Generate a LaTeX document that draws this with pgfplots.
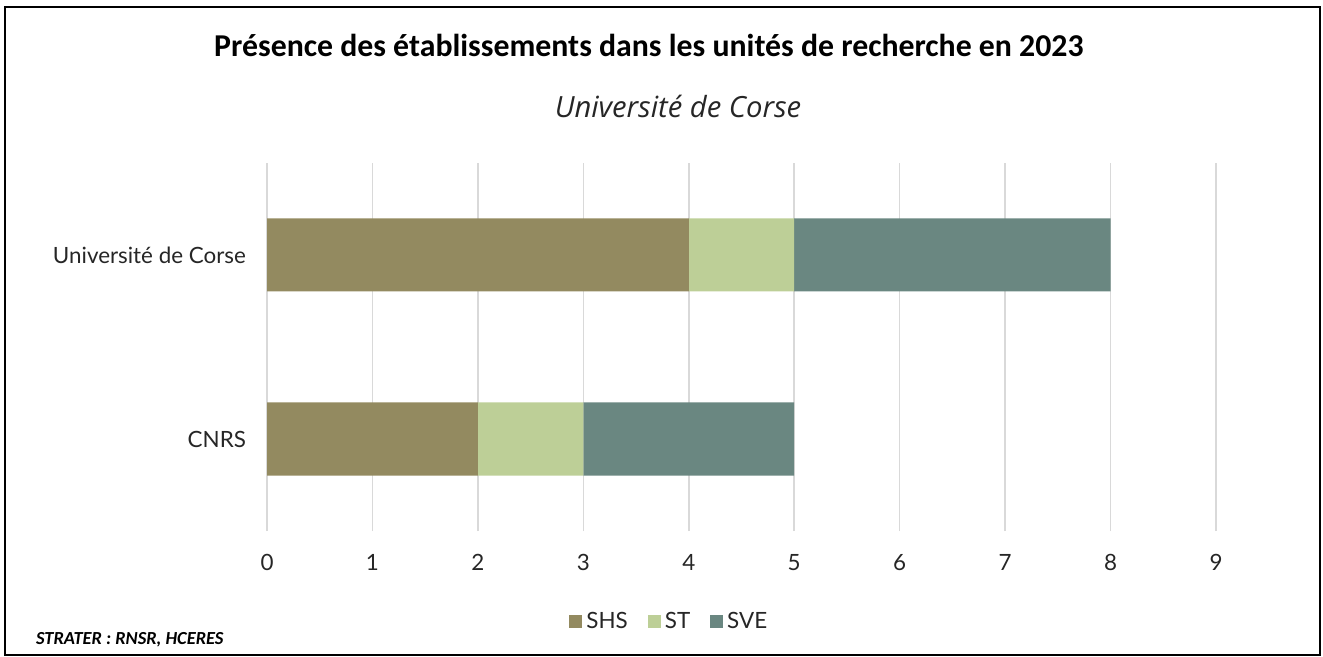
\documentclass[border=0pt]{standalone}
\usepackage{fontspec}
\setmainfont{Carlito}
\newfontfamily\lab{Lato}
\newfontfamily\sub{Open Sans}
\usepackage{pgfplots}
\pgfplotsset{compat=1.18}
\definecolor{shs}{HTML}{938A60}
\definecolor{st}{HTML}{BDCF97}
\definecolor{sve}{HTML}{6A8781}
\definecolor{gridc}{HTML}{D9D9D9}
\pgfplotsset{sq/.style={legend image code/.code={\fill[##1] (0pt,-3.25pt) rectangle (6.5pt,3.25pt);}}}

\begin{document}
\begin{tikzpicture}
    \path[use as bounding box] (0pt,0pt) rectangle (661.5pt,-328.5pt);
    \draw[line width=1.3pt] (2.5pt,-3.5pt) rectangle (660pt,-327.5pt);

    % titles
    \node[font=\bfseries\fontsize{15.9}{18}\selectfont] at (324.5pt,-22.5pt)
        {Présence des établissements dans les unités de recherche en 2023};
    \node[font=\sub\itshape\fontsize{14.6}{17}\selectfont, text=black!85] at (339pt,-53pt)
        {Université de Corse};
    \node[anchor=west, font=\bfseries\itshape\fontsize{9.2}{11}\selectfont] at (14.5pt,-320pt)
        {STRATER : RNSR, HCERES};

    \begin{axis}[
        at={(133.5pt,-81.5pt)}, anchor=north west,
        scale only axis,
        width=474.5pt, height=184pt,
        xbar stacked,
        bar width=36.5pt,
        xmin=0, xmax=9,
        ymin=-0.5, ymax=1.5,
        xtick={0,...,9},
        ytick={0,1},
        yticklabels={CNRS, Université de Corse},
        /pgf/number format/assume math mode=true,
        xmajorgrids,
        grid style={color=gridc, line width=0.75pt},
        axis line style={draw=none},
        major tick length=0pt,
        tick label style={font=\lab\fontsize{11.2}{13}\selectfont, text=black!85},
        xticklabel style={yshift=-8pt},
        yticklabel style={xshift=-7pt},
        legend style={at={(0.425,-0.247)}, anchor=center, draw=none,
            font=\lab\fontsize{11.2}{13}\selectfont, text=black!85,
            /tikz/every even column/.append style={column sep=8pt}},
        legend columns=-1,
    ]
        \addplot[fill=shs, draw=none, sq] coordinates {(2,0) (4,1)};
        \addplot[fill=st, draw=none, sq] coordinates {(1,0) (1,1)};
        \addplot[fill=sve, draw=none, sq] coordinates {(2,0) (3,1)};
        \legend{SHS, ST, SVE}
    \end{axis}
\end{tikzpicture}
\end{document}
